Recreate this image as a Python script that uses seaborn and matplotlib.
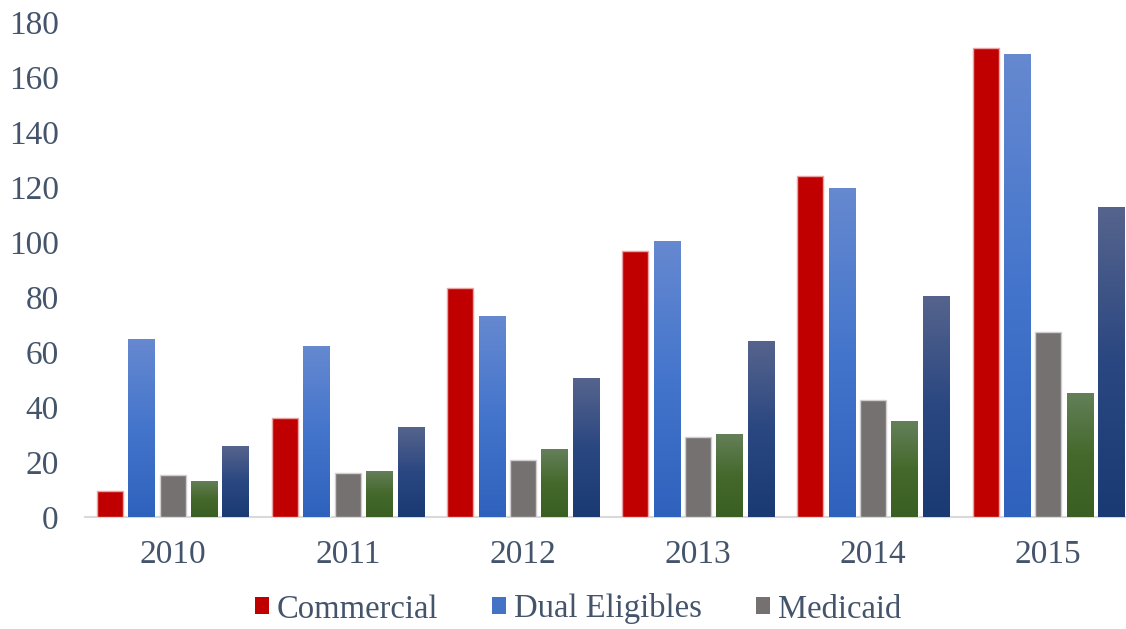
import numpy as np
import pandas as pd
import matplotlib
matplotlib.use("Agg")
import matplotlib.pyplot as plt
import seaborn as sns
from matplotlib.colors import LinearSegmentedColormap
from matplotlib.patches import Patch

# ---- data -------------------------------------------------------------
years = ["2010", "2011", "2012", "2013", "2014", "2015"]
commercial = [9.3, 36.1, 83.2, 96.8, 124.1, 170.6]
dual_eligibles = [64.7, 62.2, 73.1, 100.4, 119.6, 168.4]
medicaid = [15.4, 15.9, 20.7, 29.1, 42.5, 67.2]
series_4 = [13.1, 16.8, 24.7, 30.2, 34.9, 45.1]
series_5 = [25.8, 32.7, 50.5, 64.0, 80.4, 112.8]

series_names = ["Commercial", "Dual Eligibles", "Medicaid", "Series 4", "Series 5"]
series_values = [commercial, dual_eligibles, medicaid, series_4, series_5]
legend_names = ["Commercial", "Dual Eligibles", "Medicaid"]
y_ticks = [0, 20, 40, 60, 80, 100, 120, 140, 160, 180]

df = pd.DataFrame(
    [(yr, name, v) for name, vals in zip(series_names, series_values)
     for yr, v in zip(years, vals)],
    columns=["year", "series", "value"],
)

# ---- styling ----------------------------------------------------------
sns.set_theme(style="white")
plt.rcParams["font.family"] = ["Liberation Serif", "DejaVu Serif"]
TEXT = "#44546A"

solid = {
    "Commercial": "#C00000",
    "Dual Eligibles": "#4472C4",
    "Medicaid": "#767171",
    "Series 4": "#4A6B32",
    "Series 5": "#2A4680",
}
# vertical gradients (bottom -> top)
gradients = {
    "Dual Eligibles": ["#2F62BD", "#4475CC", "#6689D0"],
    "Series 4": ["#3A5F22", "#45692C", "#64805A"],
    "Series 5": ["#1A3A73", "#2A4781", "#56648D"],
}
edges = {"Commercial": "#E9A3A3", "Medicaid": "#CFCDCD"}

W, H = 1126, 629
fig = plt.figure(figsize=(W / 100, H / 100), dpi=100)
left_px, right_px, top_px, bottom_px = 85.2, 1135.8, 22, 517
ax = fig.add_axes([left_px / W, 1 - bottom_px / H,
                   (right_px - left_px) / W, (bottom_px - top_px) / H])

sns.barplot(data=df, x="year", y="value", hue="series", hue_order=series_names,
            order=years, palette=solid, saturation=1, width=0.895, gap=0.17,
            errorbar=None, legend=False, ax=ax)

grad = np.linspace(0, 1, 256).reshape(-1, 1)
for name, container in zip(series_names, ax.containers):
    if name in edges:
        for bar in container:
            bar.set_edgecolor(edges[name])
            bar.set_linewidth(1.0)
    if name in gradients:
        cmap = LinearSegmentedColormap.from_list(name, gradients[name])
        for bar in container:
            x0, y0 = bar.get_xy()
            w, h = bar.get_width(), bar.get_height()
            bar.set_facecolor("none")
            im = ax.imshow(grad, extent=[x0, x0 + w, y0, y0 + h], origin="lower",
                           cmap=cmap, aspect="auto", zorder=bar.get_zorder(),
                           interpolation="bilinear")
            im.set_clip_path(bar)

ax.set_xlim(-0.5, len(years) - 0.5)
ax.set_ylim(0, 180)
ax.set_yticks(y_ticks)
ax.set_xlabel("")
ax.set_ylabel("")
ax.grid(False)
for side in ("left", "right", "top"):
    ax.spines[side].set_visible(False)
ax.spines["bottom"].set_color("#D9D9D9")
ax.spines["bottom"].set_linewidth(1.5)
ax.spines["bottom"].set_zorder(0)
ax.tick_params(axis="y", length=0, pad=19, labelsize=24, labelcolor=TEXT)
ax.tick_params(axis="x", length=0, pad=16, labelsize=24, labelcolor=TEXT)

handles = [Patch(facecolor=solid[n], edgecolor="none") for n in legend_names]
fig.legend(handles, legend_names, loc="center",
           bbox_to_anchor=(578 / W, 1 - 609 / H), ncol=3, frameon=False,
           fontsize=23.5, labelcolor=TEXT, handlelength=0.42, handleheight=0.42,
           handletextpad=0.25, columnspacing=1.65)

fig.savefig("out.png", dpi=100, facecolor="white")
